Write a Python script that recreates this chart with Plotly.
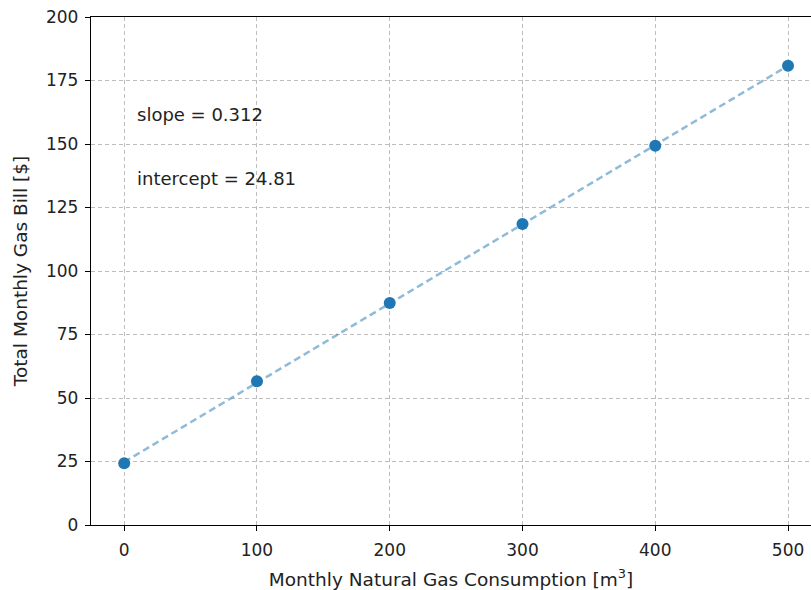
import plotly.graph_objects as go

consumption = [0, 100, 200, 300, 400, 500]
bill = [24.3, 56.6, 87.4, 118.5, 149.3, 180.8]
slope = 0.312
intercept = 24.81
fit_x = [0, 500]
fit_y = [intercept + slope * x for x in fit_x]

font = "DejaVu Sans"
fig = go.Figure()
fig.add_trace(go.Scatter(x=consumption, y=bill, mode="markers",
                         marker=dict(color="#1f77b4", size=12), showlegend=False))
fig.add_trace(go.Scatter(x=fit_x, y=fit_y, mode="lines",
                         line=dict(color="rgba(31,119,180,0.5)", width=2.5, dash="7px,4px"),
                         showlegend=False))

fig.add_annotation(x=10, y=161.5, xref="x", yref="y", text=f"slope = {slope}",
                   showarrow=False, xanchor="left", yanchor="middle", xshift=-2,
                   font=dict(family=font, size=18, color="#222"))
fig.add_annotation(x=10, y=136.5, xref="x", yref="y", text=f"intercept = {intercept}",
                   showarrow=False, xanchor="left", yanchor="middle", xshift=-2,
                   font=dict(family=font, size=18, color="#222"))

axis_common = dict(showline=True, linecolor="black", linewidth=1.3,
                   ticks="outside", ticklen=5, tickwidth=1.2, tickcolor="black",
                   showgrid=True, gridcolor="#bdbdbd", griddash="4px,3px", gridwidth=1,
                   zeroline=False, tickfont=dict(family=font, size=17, color="#222"))

fig.update_xaxes(range=[-25, 517.3], tickvals=[0, 100, 200, 300, 400, 500], mirror=True,
                 ticklabelstandoff=4,
                 title=dict(text="Monthly Natural Gas Consumption [m<sup>3</sup>]",
                            font=dict(family=font, size=18.5, color="#222"), standoff=15),
                 **axis_common)
fig.update_yaxes(range=[0, 200], tickvals=[0, 25, 50, 75, 100, 125, 150, 175, 200],
                 ticklabelstandoff=3,
                 title=dict(text="Total Monthly Gas Bill [$]",
                            font=dict(family=font, size=18.5, color="#222"), standoff=13),
                 **axis_common)

fig.update_layout(width=811, height=590, margin=dict(l=91, r=0, t=17, b=65),
                  plot_bgcolor="white", paper_bgcolor="white",
                  font=dict(family=font))
fig.write_html("out.html")
